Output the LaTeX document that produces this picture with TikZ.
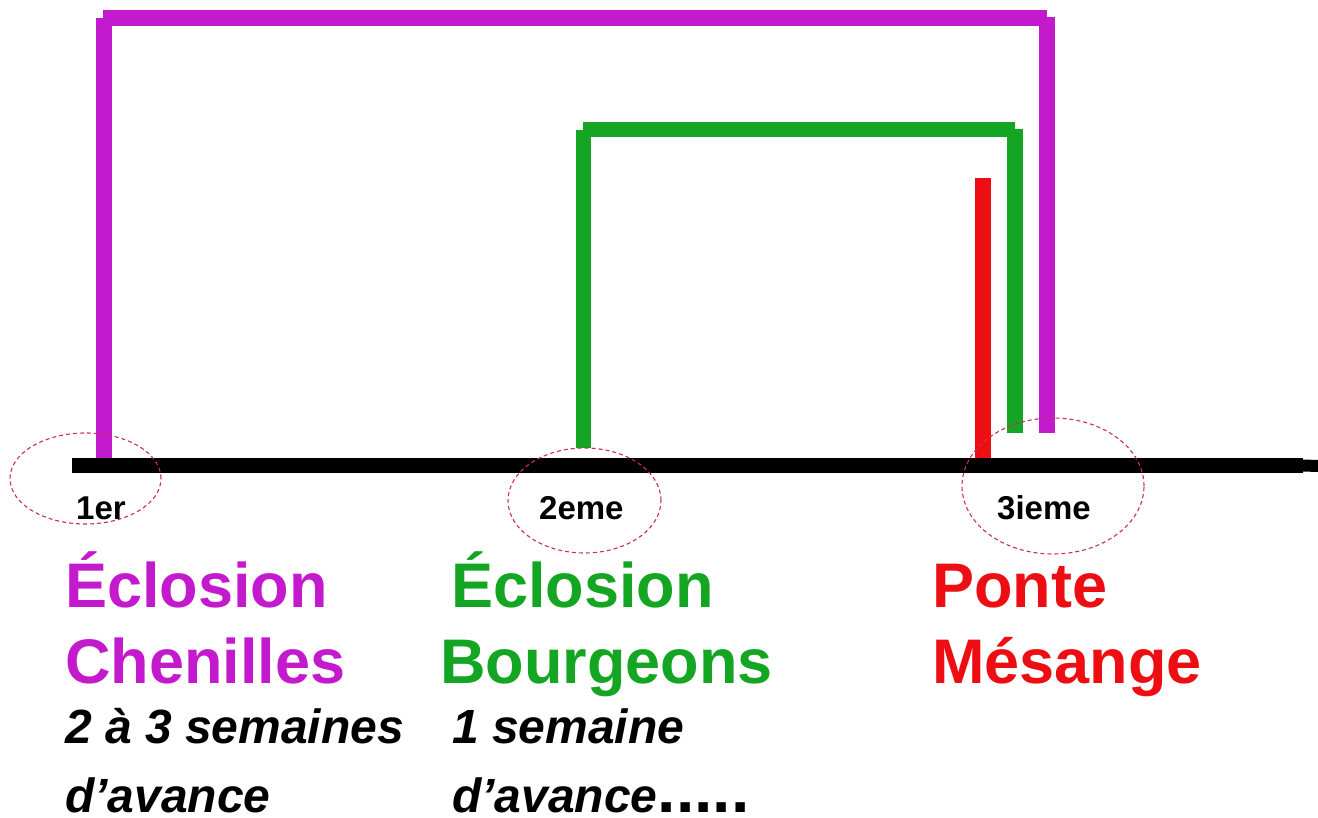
\documentclass[tikz,border=0pt]{standalone}
\usepackage{fontspec}
\setmainfont{Liberation Sans}
\usetikzlibrary{shapes.geometric}
\definecolor{purp}{RGB}{196,26,206}
\definecolor{grn}{RGB}{20,165,35}
\definecolor{rd}{RGB}{237,14,20}
\definecolor{ell}{RGB}{200,45,95}
\tikzset{
  bar/.style={line width=16pt, line cap=butt},
  axisline/.style={line width=15pt, line cap=butt, black},
  ring/.style={draw=ell, ellipse, dash pattern=on 4pt off 3pt, line width=1.1pt, inner sep=0pt},
  big/.style={anchor=base west, inner sep=0pt, font=\fontsize{63}{63}\selectfont\bfseries},
  small/.style={anchor=base west, inner sep=0pt, font=\fontsize{33}{33}\selectfont\bfseries},
  note/.style={anchor=base west, inner sep=0pt, font=\fontsize{48}{48}\selectfont\bfseries\itshape},
}
\begin{document}
\begin{tikzpicture}[x=1pt,y=-1pt]
\useasboundingbox[fill=white] (0,0) rectangle (1318,818);
% axis
\coordinate (a0) at (72,465.5);
\coordinate (a1) at (1303,465.5);
\coordinate (a2) at (1318,466);
\draw[axisline] (a0) -- (a1);
\draw[line width=12pt, black] (a1) -- (a2);
% purple bracket
\coordinate (p1) at (103.5,458);
\coordinate (p2) at (103.5,18);
\coordinate (p2b) at (103,18);
\coordinate (p3) at (1047,18);
\coordinate (p3b) at (1047,17);
\coordinate (p4) at (1047,433);
\draw[bar, purp] (p1) -- (p2);
\draw[bar, purp] (p2b) -- (p3);
\draw[bar, purp] (p3b) -- (p4);
% green bracket
\coordinate (g1) at (583.5,448);
\coordinate (g2) at (583.5,130);
\coordinate (g2b) at (583,129.5);
\coordinate (g3) at (1015,129.5);
\coordinate (g3b) at (1015,129);
\coordinate (g4) at (1015,433);
\draw[bar, grn, line width=15.5pt] (g1) -- (g2);
\draw[bar, grn, line width=15.5pt] (g2b) -- (g3);
\draw[bar, grn, line width=15.5pt] (g3b) -- (g4);
% red bar
\coordinate (r1) at (983,178);
\coordinate (r2) at (983,458);
\draw[bar, rd] (r1) -- (r2);
% ellipses
\node[ring, minimum width=151pt, minimum height=91pt] (e1) at (85.5,478.5) {};
\node[ring, minimum width=153pt, minimum height=105pt] (e2) at (584.5,500.5) {};
\node[ring, minimum width=182pt, minimum height=136pt] (e3) at (1053,486) {};
% small labels
\node[small] (l1) at (76,519) {1er};
\node[small] (l2) at (539,519) {2eme};
\node[small] (l3) at (997,519) {3ieme};
% big labels
\node[big, purp] (t1a) at (65,607) {Éclosion};
\node[big, purp] (t1b) at (65,683) {Chenilles};
\node[big, grn] (t2a) at (451,607) {Éclosion};
\node[big, grn] (t2b) at (440,683) {Bourgeons};
\node[big, rd] (t3a) at (932,607) {Ponte};
\node[big, rd] (t3b) at (932,683) {Mésange};
% notes
\node[note] (n1a) at (65,743) {2 à 3 semaines};
\node[note] (n1b) at (65,812) {d’avance};
\node[note] (n2a) at (452,743) {1 semaine};
\node[note] (n2b) at (452,812) {d’avance{\upshape\fontsize{66}{66}\selectfont.....}};
\end{tikzpicture}
\end{document}
